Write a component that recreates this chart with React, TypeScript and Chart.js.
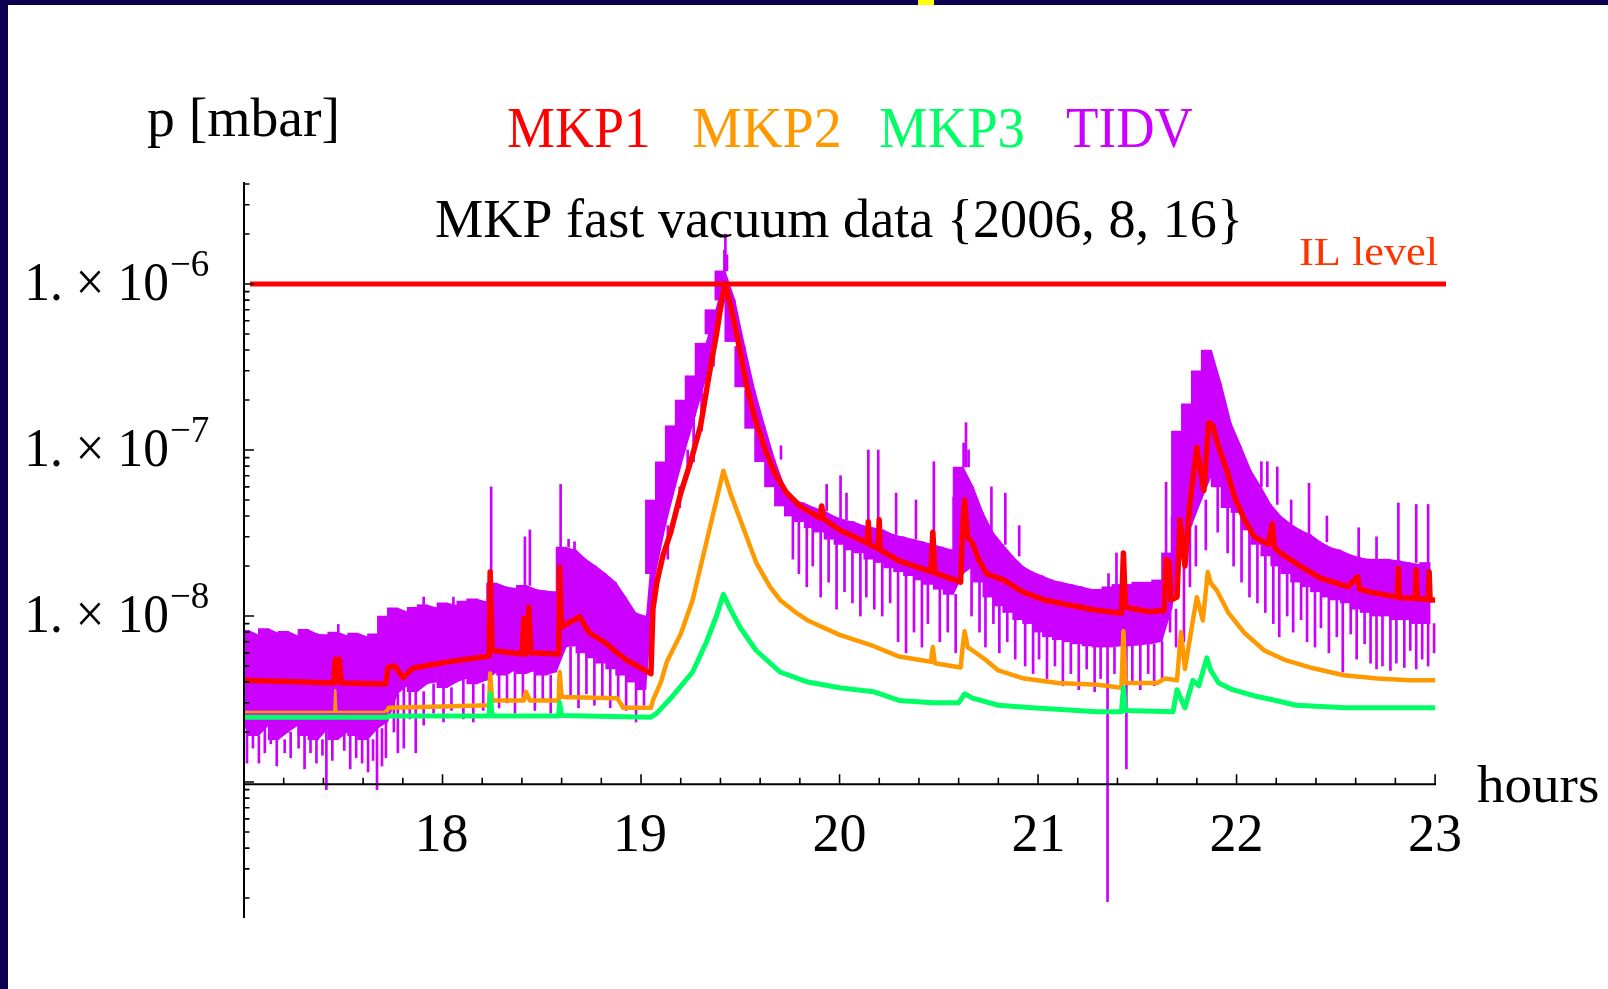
import React, { useEffect, useRef } from "react";
import { Chart, registerables } from "chart.js";

Chart.register(...registerables);

// ---------------- layout constants ----------------
const W = 1608;
const H = 989;
const PLOT_LEFT = 244;
const PLOT_RIGHT = 1446;
const PLOT_TOP = 182;
const PLOT_BOTTOM = 918;
const NAVY = "#0b0052";
const SERIF = '"Liberation Serif", "Times New Roman", serif';

// ---------------- axes ----------------
const X_MIN = 17;
const X_MAX = 23.055;
const Y_MIN = 1.517e-10;
const Y_MAX = 4.115e-6;
const X_AXIS_AT = 9.7e-10;
const HOUR_TICKS = [18, 19, 20, 21, 22, 23];
const MINOR_STEP = 0.2;
const Y_LABEL_EXPONENTS = [-6, -7, -8];

// ---------------- IL level ----------------
const IL_LEVEL = 1e-6;
const IL_START = 17.03;

// ---------------- colours ----------------
const RED = "#ff0000";
const ORANGE = "#ff9900";
const GREEN = "#00ff66";
const PURPLE = "#cc00ff";

const LEGEND = [
  { label: "MKP1", color: RED, left: 508, right: 648 },
  { label: "MKP2", color: ORANGE, left: 693, right: 839 },
  { label: "MKP3", color: GREEN, left: 880, right: 1023 },
  { label: "TIDV", color: PURPLE, left: 1067, right: 1193 },
];

// ---------------- TIDV dense band (bins of 0.05 h from 17.0) ----------------
const BIN_START = 17.0;
const BIN_STEP = 0.05;
const TIDV_HI = [
  8.2e-9, 7.7e-9, 8.4e-9, 7.9e-9, 8.1e-9, 7.6e-9, 8.3e-9, 7.8e-9, 7.7e-9, 8.0e-9, 7.6e-9, 7.9e-9, 7.5e-9, 7.8e-9,
  1.0e-8,
  1.12e-8, 1.06e-8, 1.13e-8, 1.17e-8, 1.12e-8, 1.2e-8, 1.16e-8, 1.23e-8, 1.27e-8, 1.22e-8,
  1.58e-8, 1.5e-8, 1.47e-8, 1.53e-8, 1.45e-8, 1.42e-8,
  1.4e-8,
  2.6e-8, 2.5e-8, 2.2e-8, 2.0e-8, 1.8e-8, 1.6e-8, 1.3e-8, 1.05e-8, 1.0e-8,
  5.0e-8, 8.5e-8, 1.4e-7, 2.0e-7, 2.8e-7, 4.4e-7, 7.0e-7, 1.2e-6,
  8.0e-7, 4.2e-7, 2.3e-7, 1.4e-7, 8.8e-8, 6.0e-8,
  5.0e-8, 4.8e-8, 4.5e-8, 4.3e-8, 4.0e-8, 3.8e-8, 3.7e-8, 3.5e-8, 3.4e-8, 3.3e-8, 3.1e-8, 3.0e-8, 2.9e-8, 2.8e-8, 2.7e-8, 2.6e-8, 2.5e-8,
  7.9e-8, 6.0e-8, 4.2e-8, 3.2e-8, 2.7e-8, 2.3e-8, 2.0e-8, 1.85e-8, 1.75e-8, 1.65e-8, 1.6e-8, 1.55e-8, 1.5e-8, 1.45e-8, 1.45e-8, 1.5e-8, 1.55e-8, 1.55e-8, 1.6e-8, 1.6e-8, 1.65e-8,
  2.4e-8, 1.3e-7, 1.9e-7, 3.0e-7, 4.0e-7, 2.5e-7, 1.45e-7,
  1.05e-7, 7.5e-8, 6.0e-8, 4.7e-8, 4.0e-8, 3.6e-8, 3.3e-8, 3.1e-8, 2.8e-8, 2.6e-8, 2.5e-8, 2.35e-8, 2.25e-8, 2.2e-8, 2.2e-8, 2.2e-8, 2.15e-8, 2.1e-8, 2.05e-8, 2.1e-8,
];
const TIDV_LO = [
  2.1e-9, 1.9e-9, 2.2e-9, 1.8e-9, 2.0e-9, 2.2e-9, 1.9e-9, 1.8e-9, 2.1e-9, 1.8e-9, 2.0e-9, 1.9e-9, 1.8e-9, 2.1e-9,
  2.3e-9,
  3.4e-9, 3.8e-9, 3.5e-9, 3.9e-9, 4.0e-9, 3.7e-9, 4.0e-9, 4.2e-9, 3.9e-9, 4.1e-9,
  4.6e-9, 4.4e-9, 4.8e-9, 4.5e-9, 4.7e-9, 4.4e-9,
  4.6e-9,
  6.5e-9, 6.6e-9, 6.0e-9, 5.6e-9, 5.2e-9, 4.8e-9, 4.4e-9, 4.0e-9, 3.6e-9,
  1.8e-8, 3.5e-8, 6.0e-8, 1.0e-7, 1.6e-7, 2.6e-7, 5.0e-7, 8.0e-7,
  4.5e-7, 2.4e-7, 1.35e-7, 8.5e-8, 6.0e-8, 4.6e-8,
  4.0e-8, 3.7e-8, 3.4e-8, 3.2e-8, 2.9e-8, 2.7e-8, 2.5e-8, 2.4e-8, 2.2e-8, 2.1e-8, 1.95e-8, 1.85e-8, 1.75e-8, 1.65e-8, 1.55e-8, 1.45e-8, 1.35e-8,
  1.8e-8, 2.0e-8, 1.6e-8, 1.3e-8, 1.15e-8, 1.05e-8, 9.5e-9, 9.0e-9, 8.0e-9, 7.5e-9, 7.2e-9, 7.0e-9, 6.8e-9, 6.6e-9, 6.5e-9, 6.5e-9, 6.6e-9, 6.6e-9, 6.7e-9, 6.8e-9, 7.0e-9,
  1.1e-8, 2.5e-8, 3.5e-8, 5.0e-8, 7.0e-8, 6.0e-8, 4.5e-8,
  4.2e-8, 3.3e-8, 2.7e-8, 2.3e-8, 2.0e-8, 1.8e-8, 1.6e-8, 1.5e-8, 1.4e-8, 1.3e-8, 1.25e-8, 1.2e-8, 1.1e-8, 1.05e-8, 1.0e-8, 1.0e-8, 9.5e-9, 9.5e-9, 9.0e-9, 9.0e-9,
];

// ---------------- TIDV single spikes: [hour, extreme pressure] ----------------
const TIDV_SPIKES: [number, number][] = [
  // upward
  [17.47, 8.9e-9], [17.9, 1.3e-8], [18.05, 1.3e-8], [18.24, 6.0e-8], [18.41, 3.0e-8], [18.435, 3.3e-8],
  [18.59, 6.2e-8], [18.63, 2.9e-8], [18.66, 2.8e-8], [19.415, 1.6e-6], [19.42, 2.0e-6], [19.428, 1.5e-6],
  [19.7, 1.06e-7], [19.93, 6.2e-8], [20.0, 7.0e-8], [20.03, 5.5e-8], [20.14, 1.0e-7], [20.19, 1.0e-7],
  [20.28, 5.5e-8], [20.38, 5.0e-8], [20.47, 8.5e-8], [20.57, 5.2e-8], [20.62, 1.1e-7], [20.632, 1.46e-7],
  [20.645, 1.0e-7], [20.76, 6.0e-8], [20.83, 5.5e-8], [20.9, 3.5e-8], [21.35, 1.8e-8], [21.39, 2.4e-8],
  [21.64, 6.4e-8], [21.67, 4.0e-8], [22.12, 8.5e-8], [22.15, 8.5e-8], [22.2, 7.9e-8], [22.27, 5.0e-8],
  [22.36, 6.3e-8], [22.45, 4.0e-8], [22.61, 3.4e-8], [22.7, 3.0e-8], [22.81, 4.8e-8], [22.9, 4.7e-8], [22.96, 4.7e-8],
  // downward
  [17.01, 1.3e-9], [17.04, 1.6e-9], [17.07, 1.3e-9], [17.1, 1.5e-9], [17.13, 1.7e-9], [17.16, 1.25e-9],
  [17.2, 1.5e-9], [17.23, 1.4e-9], [17.27, 1.6e-9], [17.3, 1.2e-9], [17.33, 1.5e-9], [17.36, 1.3e-9],
  [17.39, 1.45e-9], [17.41, 9.0e-10], [17.44, 1.35e-9], [17.5, 1.55e-9], [17.53, 1.2e-9], [17.56, 1.4e-9],
  [17.59, 1.3e-9], [17.62, 1.15e-9], [17.645, 1.35e-9], [17.665, 9.0e-10], [17.69, 1.25e-9], [17.71, 1.4e-9],
  [17.75, 2.0e-9], [17.77, 1.5e-9], [17.8, 1.6e-9], [17.83, 2.4e-9], [17.86, 1.5e-9], [17.9, 2.2e-9],
  [17.95, 2.6e-9], [18.0, 2.3e-9], [18.04, 2.7e-9], [18.1, 2.4e-9], [18.15, 2.3e-9], [18.2, 2.7e-9],
  [18.28, 2.8e-9], [18.32, 3.0e-9], [18.36, 2.6e-9], [18.4, 3.2e-9], [18.46, 2.7e-9], [18.5, 3.1e-9], [18.54, 2.6e-9],
  [18.64, 3.2e-9], [18.68, 2.8e-9], [18.72, 3.4e-9], [18.76, 2.9e-9], [18.8, 3.3e-9], [18.84, 2.8e-9],
  [18.88, 3.1e-9], [18.92, 2.7e-9], [18.97, 2.3e-9], [19.01, 2.9e-9],
  [19.13, 2.2e-8], [19.19, 4.5e-8], [19.23, 7.2e-8], [19.26, 8.5e-8], [19.3, 1.3e-7], [19.36, 3.2e-7], [19.53, 1.5e-7],
  [19.76, 2.2e-8], [19.79, 1.8e-8], [19.83, 1.5e-8], [19.86, 2.0e-8], [19.9, 1.3e-8], [19.94, 1.6e-8],
  [19.98, 1.1e-8], [20.02, 1.4e-8], [20.06, 1.2e-8], [20.1, 1.0e-8], [20.13, 1.3e-8], [20.17, 1.1e-8],
  [20.21, 1.0e-8], [20.25, 1.2e-8], [20.29, 7.0e-9], [20.33, 6.0e-9], [20.37, 8.0e-9], [20.41, 6.5e-9],
  [20.44, 9.0e-9], [20.5, 7.0e-9], [20.54, 8.0e-9], [20.58, 6.0e-9],
  [20.66, 1.0e-8], [20.7, 8.0e-9], [20.73, 6.5e-9], [20.77, 9.0e-9], [20.8, 6.0e-9], [20.84, 7.0e-9],
  [20.88, 5.5e-9], [20.93, 5.0e-9], [20.97, 4.5e-9], [21.0, 5.5e-9], [21.04, 4.2e-9], [21.08, 5.0e-9],
  [21.12, 3.8e-9], [21.16, 4.5e-9], [21.2, 3.6e-9], [21.24, 4.8e-9], [21.28, 3.5e-9], [21.31, 4.2e-9],
  [21.345, 1.9e-10], [21.38, 4.5e-9], [21.44, 1.2e-9], [21.47, 4.0e-9], [21.51, 3.6e-9], [21.55, 4.5e-9],
  [21.58, 3.8e-9], [21.62, 4.2e-9],
  [21.66, 8.0e-9], [21.69, 6.5e-9], [21.73, 7.0e-9], [21.76, 1.5e-8], [21.79, 2.0e-8], [21.84, 2.5e-8],
  [21.9, 3.2e-8], [21.95, 2.4e-8], [21.98, 2.0e-8],
  [22.02, 1.6e-8], [22.06, 1.3e-8], [22.1, 1.2e-8], [22.14, 1.05e-8], [22.18, 9.0e-9], [22.21, 7.5e-9],
  [22.25, 1.0e-8], [22.28, 8.0e-9], [22.32, 9.5e-9], [22.35, 7.0e-9], [22.39, 6.5e-9], [22.42, 8.5e-9],
  [22.46, 6.0e-9], [22.5, 7.5e-9], [22.53, 4.6e-9], [22.57, 7.8e-9], [22.6, 5.5e-9], [22.64, 6.8e-9],
  [22.67, 5.2e-9], [22.7, 4.8e-9], [22.73, 5.0e-9], [22.77, 4.7e-9], [22.8, 5.2e-9], [22.84, 4.9e-9],
  [22.87, 6.2e-9], [22.9, 4.8e-9], [22.93, 5.5e-9], [22.96, 5.0e-9], [22.99, 6.0e-9],
];

// ---------------- MKP1 / MKP2 / MKP3: [hour, pressure] ----------------
const MKP1: [number, number][] = [
  [17.0, 4.1e-9], [17.3, 4.0e-9], [17.45, 3.95e-9], [17.46, 5.5e-9], [17.47, 4.0e-9], [17.48, 5.5e-9],
  [17.49, 3.95e-9], [17.715, 3.9e-9], [17.725, 4.9e-9], [17.76, 5.0e-9], [17.8, 4.25e-9], [17.85, 4.85e-9],
  [17.95, 5.1e-9], [18.05, 5.35e-9], [18.15, 5.55e-9], [18.235, 5.75e-9], [18.24, 1.84e-8], [18.25, 6.2e-9],
  [18.4, 5.9e-9], [18.41, 9.7e-9], [18.42, 5.9e-9], [18.435, 1.13e-8], [18.445, 6.0e-9], [18.585, 5.9e-9],
  [18.59, 1.97e-8], [18.6, 8.6e-9], [18.69, 9.9e-9], [18.74, 7.9e-9], [18.82, 6.9e-9], [18.88, 6.0e-9],
  [18.93, 5.4e-9], [19.05, 4.5e-9], [19.06, 1.1e-8], [19.08, 1.6e-8], [19.11, 2.3e-8], [19.15, 3.2e-8],
  [19.2, 5.5e-8], [19.25, 8.5e-8], [19.3, 1.4e-7], [19.34, 2.7e-7], [19.38, 5.0e-7], [19.41, 8.5e-7],
  [19.425, 1.0e-6], [19.45, 7.5e-7], [19.49, 4.5e-7], [19.53, 2.5e-7], [19.57, 1.6e-7], [19.62, 1.05e-7],
  [19.67, 7.4e-8], [19.73, 5.6e-8], [19.8, 4.6e-8], [19.9, 3.9e-8], [19.91, 4.6e-8], [19.92, 3.85e-8],
  [20.0, 3.3e-8], [20.1, 2.9e-8], [20.14, 2.75e-8], [20.145, 3.7e-8], [20.15, 2.7e-8], [20.195, 2.55e-8],
  [20.2, 3.8e-8], [20.205, 2.5e-8], [20.3, 2.15e-8], [20.46, 1.85e-8], [20.47, 3.2e-8], [20.48, 1.82e-8],
  [20.61, 1.6e-8], [20.62, 3.4e-8], [20.63, 5.0e-8], [20.645, 3.0e-8], [20.67, 2.75e-8], [20.7, 2.2e-8],
  [20.74, 1.8e-8], [20.83, 1.64e-8], [20.92, 1.4e-8], [21.03, 1.25e-8], [21.15, 1.17e-8], [21.28, 1.09e-8],
  [21.42, 1.04e-8], [21.43, 2.4e-8], [21.44, 1.13e-8], [21.56, 1.06e-8], [21.635, 1.08e-8], [21.645, 2.2e-8],
  [21.66, 2.1e-8], [21.67, 1.25e-8], [21.7, 1.3e-8], [21.715, 3.8e-8], [21.74, 2.0e-8], [21.765, 4.8e-8],
  [21.8, 1.04e-7], [21.82, 7.3e-8], [21.835, 5.7e-8], [21.86, 1.46e-7], [21.88, 1.4e-7], [21.91, 1.04e-7],
  [21.95, 7.6e-8], [21.99, 5.2e-8], [22.04, 3.8e-8], [22.09, 3.0e-8], [22.16, 2.7e-8], [22.18, 3.6e-8],
  [22.19, 2.6e-8], [22.22, 2.4e-8], [22.32, 2.0e-8], [22.42, 1.7e-8], [22.56, 1.5e-8], [22.61, 1.72e-8],
  [22.62, 1.45e-8], [22.69, 1.38e-8], [22.81, 1.3e-8], [22.815, 1.94e-8], [22.82, 1.29e-8], [22.9, 1.28e-8],
  [22.905, 1.9e-8], [22.91, 1.27e-8], [22.965, 1.26e-8], [22.97, 1.85e-8], [22.975, 1.25e-8], [23.0, 1.25e-8],
];

const MKP2: [number, number][] = [
  [17.0, 2.64e-9], [17.455, 2.64e-9], [17.46, 3.57e-9], [17.465, 2.64e-9], [17.715, 2.64e-9], [17.73, 2.8e-9],
  [18.0, 2.85e-9], [18.235, 2.9e-9], [18.24, 4.5e-9], [18.25, 3.1e-9], [18.41, 3.1e-9], [18.42, 3.5e-9],
  [18.44, 3.1e-9], [18.585, 3.1e-9], [18.59, 4.6e-9], [18.6, 3.25e-9], [18.88, 3.2e-9], [18.91, 2.8e-9],
  [19.05, 2.8e-9], [19.06, 3.1e-9], [19.1, 4.0e-9], [19.13, 5.3e-9], [19.2, 7.8e-9], [19.26, 1.25e-8],
  [19.33, 2.8e-8], [19.38, 5.0e-8], [19.415, 7.5e-8], [19.45, 5.5e-8], [19.5, 3.8e-8], [19.58, 2.1e-8],
  [19.65, 1.5e-8], [19.7, 1.25e-8], [19.78, 1.05e-8], [19.84, 9.4e-9], [20.0, 7.7e-9], [20.17, 6.6e-9],
  [20.3, 5.7e-9], [20.46, 5.3e-9], [20.47, 6.5e-9], [20.48, 5.2e-9], [20.61, 4.9e-9], [20.62, 6.5e-9],
  [20.63, 8.1e-9], [20.645, 6.5e-9], [20.67, 6.2e-9], [20.74, 5.4e-9], [20.8, 4.7e-9], [20.93, 4.2e-9],
  [21.1, 3.95e-9], [21.3, 3.85e-9], [21.42, 3.7e-9], [21.43, 8.1e-9], [21.44, 3.95e-9], [21.6, 3.95e-9],
  [21.64, 4.2e-9], [21.7, 4.1e-9], [21.72, 8.0e-9], [21.74, 4.8e-9], [21.78, 9.4e-9], [21.8, 1.3e-8],
  [21.83, 9.4e-9], [21.855, 1.84e-8], [21.87, 1.58e-8], [21.9, 1.43e-8], [21.96, 1.04e-8], [22.04, 7.9e-9],
  [22.14, 6.2e-9], [22.25, 5.4e-9], [22.37, 4.9e-9], [22.54, 4.4e-9], [22.71, 4.2e-9], [22.87, 4.1e-9],
  [23.0, 4.1e-9],
];

const MKP3: [number, number][] = [
  [17.0, 2.46e-9], [17.72, 2.46e-9], [17.73, 2.5e-9], [18.235, 2.5e-9], [18.24, 3.4e-9], [18.25, 2.5e-9],
  [18.585, 2.5e-9], [18.59, 3.0e-9], [18.6, 2.52e-9], [19.05, 2.46e-9], [19.08, 2.6e-9], [19.16, 3.3e-9],
  [19.26, 4.6e-9], [19.33, 7.0e-9], [19.38, 1.0e-8], [19.415, 1.35e-8], [19.45, 1.1e-8], [19.5, 8.5e-9],
  [19.58, 6.2e-9], [19.7, 4.6e-9], [19.84, 4.0e-9], [20.0, 3.7e-9], [20.17, 3.5e-9], [20.3, 3.1e-9],
  [20.47, 3.0e-9], [20.6, 3.0e-9], [20.63, 3.4e-9], [20.67, 3.2e-9], [20.8, 2.9e-9], [20.97, 2.8e-9],
  [21.3, 2.65e-9], [21.42, 2.65e-9], [21.43, 3.7e-9], [21.44, 2.7e-9], [21.68, 2.65e-9], [21.7, 3.6e-9],
  [21.74, 2.8e-9], [21.78, 4.1e-9], [21.81, 3.8e-9], [21.85, 5.6e-9], [21.87, 4.7e-9], [21.91, 3.95e-9],
  [21.98, 3.6e-9], [22.09, 3.3e-9], [22.17, 3.15e-9], [22.3, 2.9e-9], [22.55, 2.8e-9], [23.0, 2.8e-9],
];

// ---------------- text helpers ----------------
function drawInk(ctx: CanvasRenderingContext2D, text: string, left: number, right: number | null,
  baseline: number, size: number, color: string, family: string = SERIF) {
  ctx.save();
  ctx.font = `${size}px ${family}`;
  ctx.fillStyle = color;
  ctx.textAlign = "left";
  ctx.textBaseline = "alphabetic";
  const m = ctx.measureText(text);
  const ink = m.actualBoundingBoxLeft + m.actualBoundingBoxRight;
  const sx = right != null && ink > 0 ? (right - left) / ink : 1;
  ctx.translate(left, baseline);
  ctx.scale(sx, 1);
  ctx.fillText(text, m.actualBoundingBoxLeft, 0);
  ctx.restore();
}

function drawCentered(ctx: CanvasRenderingContext2D, text: string, cx: number, baseline: number,
  size: number, color: string) {
  ctx.save();
  ctx.font = `${size}px ${SERIF}`;
  const m = ctx.measureText(text);
  const ink = m.actualBoundingBoxLeft + m.actualBoundingBoxRight;
  ctx.restore();
  drawInk(ctx, text, cx - ink / 2, null, baseline, size, color);
}

const decoPlugin = {
  id: "deco",
  beforeDraw(chart: any) {
    const ctx: CanvasRenderingContext2D = chart.ctx;
    ctx.save();
    ctx.fillStyle = NAVY;
    ctx.fillRect(0, 0, W, H);
    ctx.fillStyle = "#ffffff";
    ctx.fillRect(8, 5, W - 8, H - 5);
    ctx.fillStyle = "#ffff00";
    ctx.fillRect(918, 0, 16, 5);
    ctx.restore();
  },
  afterDraw(chart: any) {
    const ctx: CanvasRenderingContext2D = chart.ctx;
    const xs = chart.scales.x;
    const ys = chart.scales.y;
    const area = chart.chartArea;
    const x0 = xs.getPixelForValue(X_MIN);
    const axisY = ys.getPixelForValue(X_AXIS_AT);
    const lastHour = HOUR_TICKS[HOUR_TICKS.length - 1];
    const xEnd = xs.getPixelForValue(lastHour);

    ctx.save();
    ctx.strokeStyle = "#000";
    ctx.lineWidth = 2;
    ctx.beginPath();
    ctx.moveTo(x0, area.top);
    ctx.lineTo(x0, area.bottom);
    ctx.moveTo(x0, axisY);
    ctx.lineTo(xEnd + 1, axisY);
    ctx.stroke();

    ctx.lineWidth = 1.6;
    ctx.beginPath();
    for (let i = 1; ; i++) {
      const t = X_MIN + i * MINOR_STEP;
      if (t > lastHour + 1e-6) break;
      const px = xs.getPixelForValue(t);
      const major = Math.abs(t - Math.round(t)) < 1e-6;
      ctx.moveTo(px, axisY);
      ctx.lineTo(px, axisY - (major ? 10 : 6.5));
    }
    for (let e = -10; e <= -6; e++) {
      for (let k = 1; k <= 9; k++) {
        const v = k * Math.pow(10, e);
        if (v < ys.min || v > ys.max) continue;
        const py = ys.getPixelForValue(v);
        ctx.moveTo(x0, py);
        ctx.lineTo(x0 + (k === 1 ? 10 : 5.5), py);
      }
    }
    ctx.stroke();
    ctx.restore();

    for (const h of HOUR_TICKS) {
      drawCentered(ctx, String(h), xs.getPixelForValue(h), 851, 54, "#000");
    }
    for (const e of Y_LABEL_EXPONENTS) {
      const py = ys.getPixelForValue(Math.pow(10, e));
      drawInk(ctx, "1. \u00d7 10", 28, 167, py + 16, 54, "#000");
      drawInk(ctx, "\u2212" + String(-e), 171, null, py - 8, 37, "#000");
    }

    drawInk(ctx, "p [mbar]", 147, 336, 136, 54, "#000");
    drawInk(ctx, "MKP fast vacuum data {2006, 8, 16}", 436, 1239, 237, 54, "#000");
    for (const l of LEGEND) drawInk(ctx, l.label, l.left, l.right, 147, 58, l.color);
    drawInk(ctx, "IL level", 1300, 1438, 265, 40, "#ff3300");
    drawInk(ctx, "hours", 1477, 1598, 802, 52, "#000");
  },
};

export default function App() {
  const ref = useRef<HTMLCanvasElement>(null);

  useEffect(() => {
    if (!ref.current) return;
    const bandPx = ((PLOT_RIGHT - PLOT_LEFT) / (X_MAX - X_MIN)) * BIN_STEP + 0.6;
    const binCenter = (i: number) => BIN_START + BIN_STEP * (i + 0.5);
    const bandData = TIDV_HI.map((hi, i) => ({ x: binCenter(i), y: [TIDV_LO[i], hi] }));
    const hiLine = TIDV_HI.map((hi, i) => ({ x: binCenter(i), y: hi }));
    const loLine = TIDV_LO.map((lo, i) => ({ x: binCenter(i), y: lo }));
    const spikeData = TIDV_SPIKES.map(([t, v]) => {
      const i = Math.max(0, Math.min(TIDV_HI.length - 1, Math.floor((t - BIN_START) / BIN_STEP)));
      const hi = TIDV_HI[i];
      const lo = TIDV_LO[i];
      if (v > hi) return { x: t, y: [hi, v] };
      if (v < lo) return { x: t, y: [v, lo] };
      return { x: t, y: [lo, hi] };
    });
    const toXY = (arr: [number, number][]) => arr.map(([x, y]) => ({ x, y }));

    const chart = new Chart(ref.current, {
      type: "line",
      data: {
        datasets: [
          {
            type: "line",
            label: "IL level",
            data: [{ x: IL_START, y: IL_LEVEL }, { x: X_MAX, y: IL_LEVEL }],
            borderColor: RED,
            borderWidth: 5,
            pointRadius: 0,
            order: 0,
          },
          {
            type: "line",
            label: "MKP3",
            data: toXY(MKP3),
            borderColor: GREEN,
            borderWidth: 5,
            pointRadius: 0,
            borderJoinStyle: "round",
            order: 1,
          },
          {
            type: "line",
            label: "MKP2",
            data: toXY(MKP2),
            borderColor: ORANGE,
            borderWidth: 4.5,
            pointRadius: 0,
            borderJoinStyle: "round",
            segment: { borderWidth: (c: any) => (c.p1.parsed.x <= 17.72 ? 2.5 : 4.5) },
            order: 2,
          },
          {
            type: "line",
            label: "MKP1",
            data: toXY(MKP1),
            borderColor: RED,
            borderWidth: 5.5,
            pointRadius: 0,
            borderJoinStyle: "round",
            order: 3,
          },
          {
            type: "bar",
            label: "TIDV spikes",
            data: spikeData as any,
            xAxisID: "x2",
            backgroundColor: PURPLE,
            borderWidth: 0,
            barThickness: 2,
            order: 4,
          },
          {
            type: "bar",
            label: "TIDV",
            data: bandData as any,
            xAxisID: "x",
            backgroundColor: PURPLE,
            borderWidth: 0,
            barThickness: bandPx,
            order: 5,
          },
          {
            type: "line",
            label: "TIDV upper",
            data: hiLine,
            borderWidth: 0,
            pointRadius: 0,
            fill: false,
            order: 6,
          },
          {
            type: "line",
            label: "TIDV lower",
            data: loLine,
            borderWidth: 0,
            borderColor: "rgba(0,0,0,0)",
            backgroundColor: PURPLE,
            pointRadius: 0,
            fill: "-1",
            order: 7,
          },
        ] as any,
      },
      options: {
        responsive: false,
        animation: false,
        devicePixelRatio: 1,
        events: [],
        layout: {
          padding: {
            left: PLOT_LEFT,
            right: W - PLOT_RIGHT,
            top: PLOT_TOP,
            bottom: H - PLOT_BOTTOM,
          },
        },
        plugins: { legend: { display: false }, tooltip: { enabled: false }, title: { display: false } },
        scales: {
          x: { type: "linear", min: X_MIN, max: X_MAX, display: false, offset: false },
          x2: { type: "linear", axis: "x", min: X_MIN, max: X_MAX, display: false, offset: false },
          y: { type: "logarithmic", min: Y_MIN, max: Y_MAX, display: false, stacked: false, beginAtZero: false },
        } as any,
      },
      plugins: [decoPlugin],
    } as any);
    return () => chart.destroy();
  }, []);

  return (
    <div style={{ position: "fixed", left: 0, top: 0, width: W, height: H }}>
      <canvas ref={ref} width={W} height={H} style={{ display: "block", width: W, height: H }} />
    </div>
  );
}
